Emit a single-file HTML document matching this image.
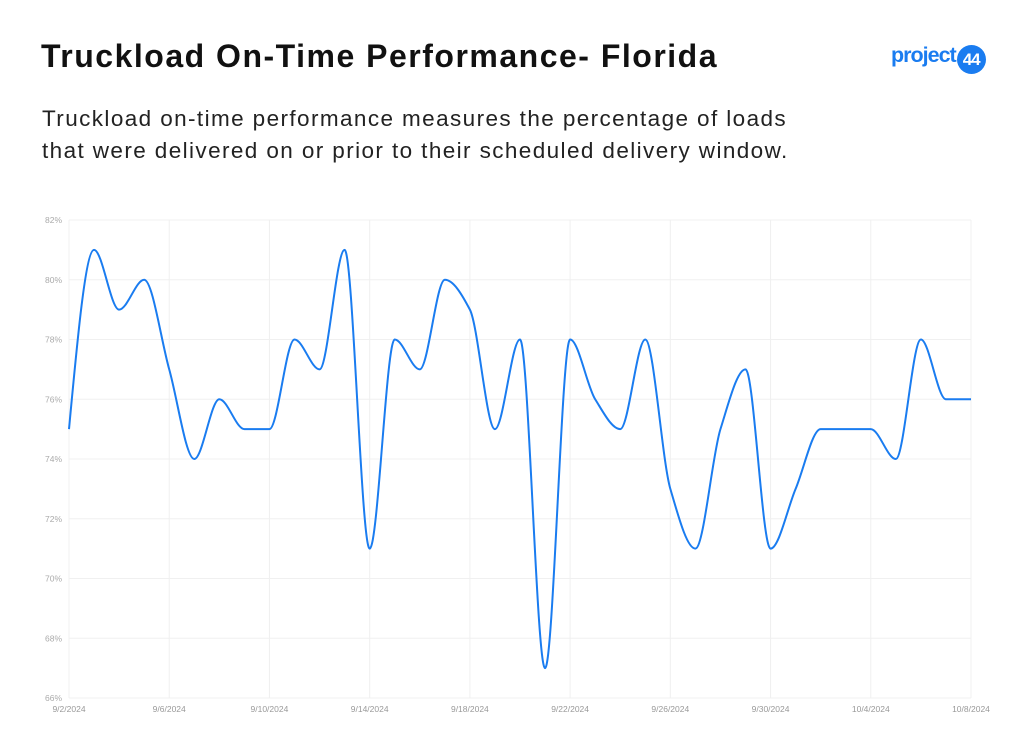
<!DOCTYPE html>
<html><head><meta charset="utf-8"><style>
body{margin:0;width:1024px;height:753px;background:#fff;font-family:"Liberation Sans",sans-serif;overflow:hidden;position:relative}
#title{position:absolute;left:41px;top:38px;font-size:32px;font-weight:bold;color:#111;letter-spacing:1.5px}
#sub{position:absolute;left:42px;top:103px;font-size:22.5px;color:#222;line-height:32px;letter-spacing:1.4px}
#logo{position:absolute;left:891px;top:43px;font-size:21.5px;font-weight:bold;color:#1a7cf0;letter-spacing:-1px;white-space:nowrap}
#logo span{display:inline-block;background:#1a7cf0;color:#fff;border-radius:50%;width:29px;height:29px;line-height:29px;text-align:center;font-size:17px;vertical-align:-3px;margin-left:1px}
svg{position:absolute;left:0;top:0}
</style></head><body>
<div id="title">Truckload On-Time Performance- Florida</div>
<div id="sub">Truckload on-time performance measures the percentage of loads<br>that were delivered on or prior to their scheduled delivery window.</div>
<div id="logo">project<span>44</span></div>
<svg id="chart" width="1024" height="753"></svg>
<script>
const values=[75,81,79,80,77,74,76,75,75,78,77,81,71,78,77,80,79,75,78,67,78,76,75,78,73,71,75,77,71,73,75,75,75,74,78,76,76];
const xTickLabels=["9/2/2024","9/6/2024","9/10/2024","9/14/2024","9/18/2024","9/22/2024","9/26/2024","9/30/2024","10/4/2024","10/8/2024"];
const yTicks=[66,68,70,72,74,76,78,80,82];
const X0=69,X1=971,Y0=698,Y1=220;
const x=i=>X0+(X1-X0)*i/(values.length-1);
const y=v=>Y0-(Y0-Y1)*(v-66)/16;
const svg=document.getElementById('chart');const NS='http://www.w3.org/2000/svg';
function mk(t,a){const e=document.createElementNS(NS,t);for(const k in a)e.setAttribute(k,a[k]);svg.appendChild(e);return e;}
yTicks.forEach(v=>{const l=mk('line',{x1:X0,x2:X1,y1:y(v),y2:y(v),stroke:'#f0f0f0'});


const t=mk('text',{x:X0-7,y:y(v)+3,'text-anchor':'end','font-size':'8.5',fill:'#aaa'});t.textContent=v+'%';

});
xTickLabels.forEach((s,k)=>{const xi=x(k*4);const l=mk('line',{x1:xi,x2:xi,y1:Y1,y2:Y0,stroke:'#f0f0f0'});


const t=mk('text',{x:xi,y:Y0+14,'text-anchor':'middle','font-size':'8.5',fill:'#999'});t.textContent=s;

});
const n=values.length,px=values.map((v,i)=>x(i)),py=values.map(v=>y(v));
const d=[],m=[];for(let i=0;i<n-1;i++)d.push((py[i+1]-py[i])/(px[i+1]-px[i]));
for(let i=0;i<n;i++){if(i==0)m.push(d[0]);else if(i==n-1)m.push(d[n-2]);else{if(d[i-1]*d[i]<=0)m.push(0);else m.push(2/(1/d[i-1]+1/d[i]));}}
m[0]=(3*d[0]-m[1])/2;m[n-1]=(3*d[n-2]-m[n-2])/2;
let p='M'+px[0]+','+py[0];
for(let i=0;i<n-1;i++){const h=(px[i+1]-px[i])/3;p+=`C${px[i]+h},${py[i]+m[i]*h} ${px[i+1]-h},${py[i+1]-m[i+1]*h} ${px[i+1]},${py[i+1]}`;}
const path=mk('path',{d:p,fill:'none',stroke:'#1a7cf0','stroke-width':2});


</script>
</body></html>
